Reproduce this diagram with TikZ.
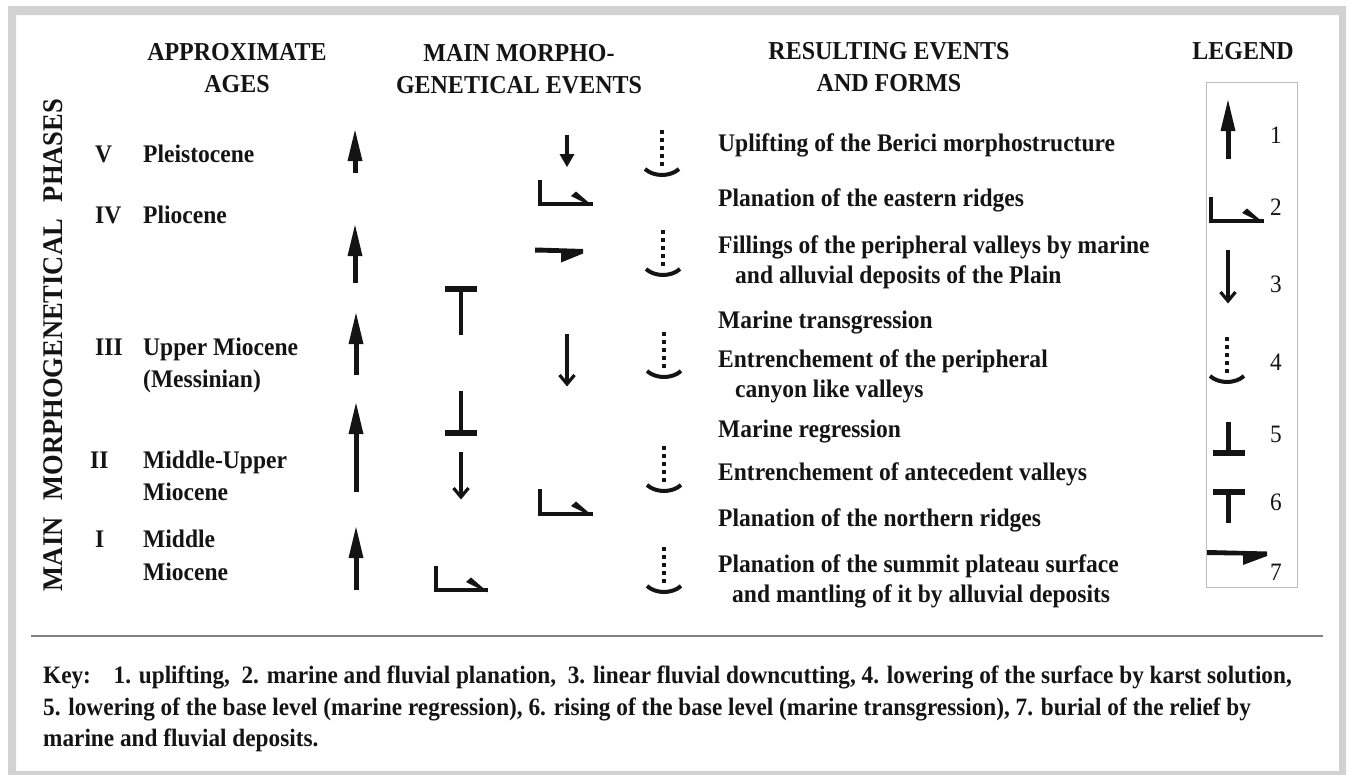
\documentclass[tikz,border=0pt]{standalone}
\usepackage{fontspec}
\setmainfont{Liberation Serif}[FakeStretch=0.93]
\definecolor{ink}{HTML}{141414}
\definecolor{framegray}{HTML}{D2D2D2}
\definecolor{rulegray}{HTML}{808080}
\definecolor{boxgray}{HTML}{BDBDBD}
\newcommand\symUp[3]{%
  \fill[ink] (#1,#2)--(#1+7.5,#2+31)--(#1-7.5,#2+31)--cycle;
  \fill[ink] (#1-2.5,#2+28) rectangle (#1+2.5,#3);}
\newcommand\symDown[3]{%
  \draw[ink,line width=3.5pt] (#1,#2)--(#1,#3-3);
  \draw[ink,line width=3.2pt,line join=miter] (#1-7.5,#3-11)--(#1,#3-2)--(#1+7.5,#3-11);}
\newcommand\symDownF[3]{%
  \draw[ink,line width=3.5pt] (#1,#2)--(#1,#3-8);
  \fill[ink] (#1-7.5,#3-13)--(#1,#3)--(#1+7.5,#3-13)--cycle;}
\newcommand\symPlan[4]{%
  \draw[ink,line width=4.5pt,line join=miter] (#1,#2)--(#1,#3)--(#4,#3);
  \fill[ink] (#4,#3+2.25)--(#4-17,#3-12.5)--(#4-22,#3-8)--(#4-10,#3-2)--cycle;}
\newcommand\symKarst[2]{%
  \foreach \k in {0,...,4} {\fill[ink] (#1-2.2,#2+8*\k) rectangle (#1+2.2,#2+8*\k+4.4);}
  \draw[ink,line width=4pt] (#1-17,#2+39) .. controls (#1-8,#2+47) and (#1+8,#2+47) .. (#1+17,#2+39);}
\newcommand\symLow[3]{%
  \fill[ink] (#1-2.3,#2) rectangle (#1+2.3,#3);
  \fill[ink] (#1-16,#3-2.6) rectangle (#1+16,#3+2.6);}
\newcommand\symRise[3]{%
  \fill[ink] (#1-16,#2-2.6) rectangle (#1+16,#2+2.6);
  \fill[ink] (#1-2.3,#2) rectangle (#1+2.3,#3);}
\newcommand\symBury[4]{%
  \fill[ink] (#1,#4)--(#3,#4+1.5)--(#3,#4+6)--(#2,#4+15)--(#2,#4+5.5)--(#1,#4+5)--cycle;}
\begin{document}
\begin{tikzpicture}[x=1pt,y=-1pt,
  txt/.style={inner sep=0pt,anchor=base west,font=\fontsize{25.3}{28}\selectfont\bfseries,text=ink},
  hdr/.style={inner sep=0pt,anchor=base,font=\fontsize{25.8}{28}\selectfont\bfseries,text=ink},
  num/.style={inner sep=0pt,anchor=base west,font=\fontsize{25}{28}\selectfont,text=ink},
  keytxt/.style={inner sep=0pt,anchor=base west,font=\fontsize{25}{28}\selectfont\bfseries,text=ink}]
\useasboundingbox (0,0) rectangle (1348,774);
% frame
\fill[framegray,even odd rule] (8,6) rectangle (1346,780) (16,15) rectangle (1339,771);
% headers
\node[hdr] (h1a) at (237,60) {APPROXIMATE};
\node[hdr] (h1b) at (237,92) {AGES};
\node[hdr] (h2a) at (519,61) {MAIN MORPHO-};
\node[hdr] (h2b) at (519,93) {GENETICAL EVENTS};
\node[hdr] (h3a) at (889,59) {RESULTING EVENTS};
\node[hdr] (h3b) at (889,91) {AND FORMS};
\node[hdr] (h4) at (1243,59) {LEGEND};
% vertical title
\node[inner sep=0pt,rotate=90,font=\fontsize{28.5}{30}\selectfont\bfseries,text=ink] (vt) at (53,345)
  {MAIN\hspace{0.6em}MORPHOGENETICAL\hspace{0.6em}PHASES};
% ages
\node[txt] (n5) at (95,162) {V};
\node[txt] (a5) at (143,162) {Pleistocene};
\node[txt] (n4) at (95,223) {IV};
\node[txt] (a4) at (143,223) {Pliocene};
\node[txt] (n3) at (95,355) {III};
\node[txt] (a3) at (143,355) {Upper Miocene};
\node[txt] (a3b) at (143,387) {(Messinian)};
\node[txt] (n2) at (90,468) {II};
\node[txt] (a2) at (143,468) {Middle-Upper};
\node[txt] (a2b) at (143,500) {Miocene};
\node[txt] (n1) at (95,547) {I};
\node[txt] (a1) at (143,547) {Middle};
\node[txt] (a1b) at (143,580) {Miocene};
% results
\node[txt] (r1) at (718,151) {Uplifting of the Berici morphostructure};
\node[txt] (r2) at (718,206) {Planation of the eastern ridges};
\node[txt] (r3) at (718,253) {Fillings of the peripheral valleys by marine};
\node[txt] (r3b) at (735,283) {and alluvial deposits of the Plain};
\node[txt] (r4) at (718,328) {Marine transgression};
\node[txt] (r5) at (718,367) {Entrenchement of the peripheral};
\node[txt] (r5b) at (735,397) {canyon like valleys};
\node[txt] (r6) at (718,437) {Marine regression};
\node[txt] (r7) at (718,480) {Entrenchement of antecedent valleys};
\node[txt] (r8) at (718,526) {Planation of the northern ridges};
\node[txt] (r9) at (718,572) {Planation of the summit plateau surface};
\node[txt] (r9b) at (732,602) {and mantling of it by alluvial deposits};
% column 1: uplift
\symUp{355}{130}{173}
\symUp{355}{225}{283}
\symUp{356}{313}{375}
\symUp{356}{403}{492}
\symUp{356}{527}{590}
% column 2
\symRise{461}{289}{335}
\symLow{461}{391}{433}
\symDown{461}{452}{499}
\symPlan{436}{566}{590}{488}
% column 3
\symDownF{567}{135}{167}
\symPlan{540}{180}{204}{593}
\symBury{535}{561}{583}{247.5}
\symDown{567}{334}{386}
\symPlan{540}{489}{514}{593}
% column 4: karst
\symKarst{662}{130}
\symKarst{663}{230}
\symKarst{664}{332}
\symKarst{664}{446}
\symKarst{664}{547}
% legend
\draw[boxgray,line width=1pt] (1206,82) rectangle (1297,587);
\symUp{1228}{100}{159}
\symPlan{1211}{197}{221}{1264}
\symDown{1228}{250}{303}
\symKarst{1227}{337}
\symLow{1228.5}{422}{453}
\symRise{1228.5}{492}{523}
\symBury{1207}{1243}{1267}{550}
\node[num] (l1) at (1270,143) {1};
\node[num] (l2) at (1270,215) {2};
\node[num] (l3) at (1270,292) {3};
\node[num] (l4) at (1270,370) {4};
\node[num] (l5) at (1270,442) {5};
\node[num] (l6) at (1270,510) {6};
\node[num] (l7) at (1270,580) {7};
% rule
\draw[rulegray,line width=1.5pt] (31,636) -- (1323,636);
% key
\node[keytxt] (k1) at (43,683) {Key:\hspace{0.6em} 1. uplifting,\ \ 2. marine and fluvial planation,\ \ 3. linear fluvial downcutting, 4. lowering of the surface by karst solution,};
\node[keytxt] (k2) at (43,715) {5. lowering of the base level (marine regression), 6. rising of the base level (marine transgression), 7. burial of the relief by};
\node[keytxt] (k3) at (43,746) {marine and fluvial deposits.};
\end{tikzpicture}
\end{document}
